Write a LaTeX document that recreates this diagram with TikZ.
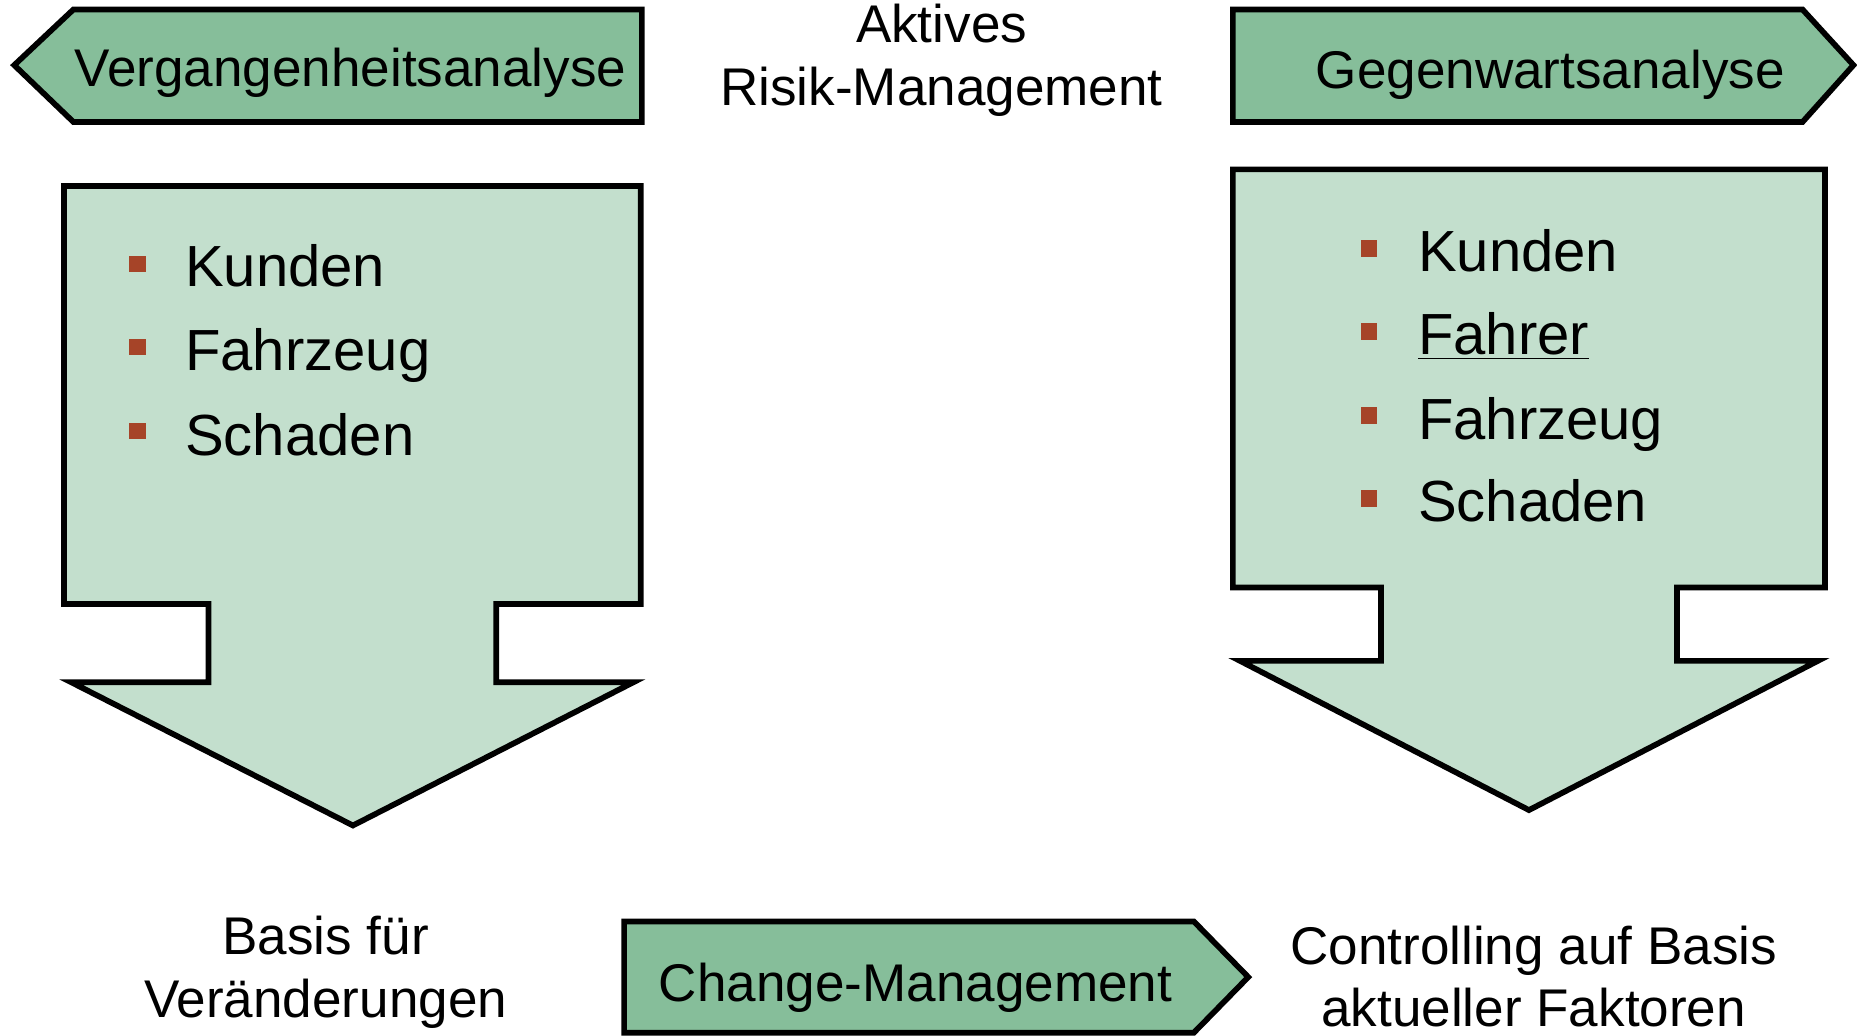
\documentclass[tikz,border=0pt]{standalone}
\usepackage{fontspec}
\setmainfont{Liberation Sans}
\definecolor{hdrgreen}{RGB}{134,190,154}
\definecolor{boxgreen}{RGB}{195,223,205}
\definecolor{bulletred}{RGB}{166,68,40}
\begin{document}
\begin{tikzpicture}[x=0.5pt,y=-0.5pt,
  outline/.style={draw=black,line width=2.4pt,line join=miter},
  hdr/.style={outline,fill=hdrgreen},
  bigarrow/.style={outline,fill=boxgreen},
  hdrtext/.style={inner sep=0pt,font=\fontsize{22.4}{26.5}\selectfont,anchor=base,align=center},
  itemtext/.style={inner sep=0pt,font=\fontsize{24.5}{29}\selectfont,anchor=base west},
  bullet/.style={fill=bulletred,minimum size=7pt,inner sep=0pt}]
\useasboundingbox (0,0) rectangle (1568,874);
% header arrows
\draw[hdr] (542,8) -- (62,8) -- (12,55) -- (62,103) -- (542,103) -- cycle;
\draw[hdr] (1041,8) -- (1522,8) -- (1565,55) -- (1522,103) -- (1041,103) -- cycle;
\draw[hdr] (527,778) -- (1008,778) -- (1054,825) -- (1008,872) -- (527,872) -- cycle;
% big arrows
\draw[bigarrow] (54,157) -- (541,157) -- (541,510) -- (419,510) -- (419,576) -- (535,576) -- (298,697) -- (60,576) -- (176,576) -- (176,510) -- (54,510) -- cycle;
\draw[bigarrow] (1041,143) -- (1541,143) -- (1541,496) -- (1416,496) -- (1416,558) -- (1535,558) -- (1291,684) -- (1047,558) -- (1166,558) -- (1166,496) -- (1041,496) -- cycle;
% header texts
\node[hdrtext] (vga) at (296,73) {Vergangenheitsanalyse};
\node[hdrtext] (gwa) at (1309,75) {Gegenwartsanalyse};
\node[hdrtext] (arm) at (795,89) {Aktives\\Risik-Management};
\node[hdrtext] (chm) at (773,846) {Change-Management};
\node[hdrtext] (bfv) at (275,859) {Basis für\\Veränderungen};
\node[hdrtext] (cab) at (1295,867) {Controlling auf Basis\\aktueller Faktoren};
% left bullets
\node[bullet] (lb1) at (116,223) {};
\node[bullet] (lb2) at (116,293) {};
\node[bullet] (lb3) at (116,364) {};
\node[itemtext] (lt1) at (156,242) {Kunden};
\node[itemtext] (lt2) at (156,313) {Fahrzeug};
\node[itemtext] (lt3) at (156,385) {Schaden};
% right bullets
\node[bullet] (rb1) at (1156,210) {};
\node[bullet] (rb2) at (1156,280) {};
\node[bullet] (rb3) at (1156,351) {};
\node[bullet] (rb4) at (1156,421) {};
\node[itemtext] (rt1) at (1197,229) {Kunden};
\node[itemtext] (rt2) at (1197,299) {\underline{Fahrer}};
\node[itemtext] (rt3) at (1197,371) {Fahrzeug};
\node[itemtext] (rt4) at (1197,440) {Schaden};
\end{tikzpicture}
\end{document}
